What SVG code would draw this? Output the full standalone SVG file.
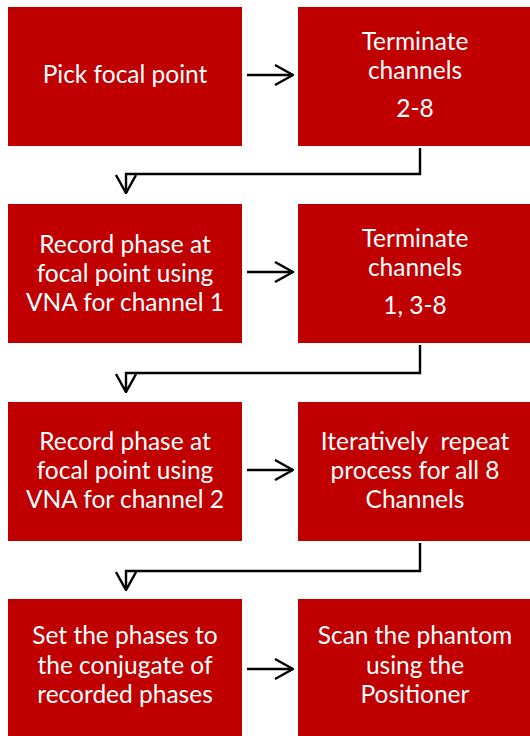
<svg xmlns="http://www.w3.org/2000/svg" width="530" height="736" viewBox="0 0 530 736">
  <style>
    .box { fill: #C00000; }
    .lbl { fill: #FFFFFF; font-family: Lato, "Open Sans", sans-serif; font-size: 24.5px; text-anchor: middle; }
    .wire { fill: none; stroke: #000000; stroke-width: 2.4; marker-end: url(#vee); }
  </style>
  <defs>
    <marker id="vee" markerUnits="userSpaceOnUse" viewBox="0 0 20 22" markerWidth="20" markerHeight="22" refX="19" refY="11" orient="auto">
      <path d="M1,1 L19,11 L1,21" fill="none" stroke="#000000" stroke-width="2.4"/>
    </marker>
  </defs>
  <rect width="530" height="736" fill="#FFFFFF"/>

  <g id="pick-focal-point">
    <rect class="box" x="8" y="7" width="234" height="139"/>
    <text class="lbl" x="125" y="83">Pick focal point</text>
  </g>
  <g id="terminate-2-8">
    <rect class="box" x="298" y="7" width="234" height="139"/>
    <text class="lbl" x="415" y="50">Terminate</text>
    <text class="lbl" x="415" y="79">channels</text>
    <text class="lbl" x="415" y="117">2-8</text>
  </g>
  <g id="record-channel-1">
    <rect class="box" x="8" y="204" width="234" height="139"/>
    <text class="lbl" x="125" y="253">Record phase at</text>
    <text class="lbl" x="125" y="282">focal point using</text>
    <text class="lbl" x="125" y="311">VNA for channel 1</text>
  </g>
  <g id="terminate-1-3-8">
    <rect class="box" x="298" y="204" width="234" height="139"/>
    <text class="lbl" x="415" y="247">Terminate</text>
    <text class="lbl" x="415" y="276">channels</text>
    <text class="lbl" x="415" y="314">1, 3-8</text>
  </g>
  <g id="record-channel-2">
    <rect class="box" x="8" y="402" width="234" height="139"/>
    <text class="lbl" x="125" y="450">Record phase at</text>
    <text class="lbl" x="125" y="479">focal point using</text>
    <text class="lbl" x="125" y="508">VNA for channel 2</text>
  </g>
  <g id="repeat-all">
    <rect class="box" x="298" y="402" width="234" height="139"/>
    <text class="lbl" x="415" y="450" xml:space="preserve">Iteratively  repeat</text>
    <text class="lbl" x="415" y="479">process for all 8</text>
    <text class="lbl" x="415" y="508">Channels</text>
  </g>
  <g id="set-conjugate">
    <rect class="box" x="8" y="599" width="234" height="140"/>
    <text class="lbl" x="125" y="644">Set the phases to</text>
    <text class="lbl" x="125" y="674">the conjugate of</text>
    <text class="lbl" x="125" y="703">recorded phases</text>
  </g>
  <g id="scan-phantom">
    <rect class="box" x="298" y="599" width="234" height="140"/>
    <text class="lbl" x="415" y="644">Scan the phantom</text>
    <text class="lbl" x="415" y="674">using the</text>
    <text class="lbl" x="415" y="703">Positioner</text>
  </g>

  <g id="connectors">
    <path class="wire" d="M247,75 H293"/>
    <path class="wire" d="M247,272 H293"/>
    <path class="wire" d="M247,470 H293"/>
    <path class="wire" d="M247,669 H293"/>
    <path class="wire" d="M420,148 V174 H126 V193"/>
    <path class="wire" d="M420,345 V373 H126 V392"/>
    <path class="wire" d="M420,543 V571 H126 V590"/>
  </g>
</svg>
